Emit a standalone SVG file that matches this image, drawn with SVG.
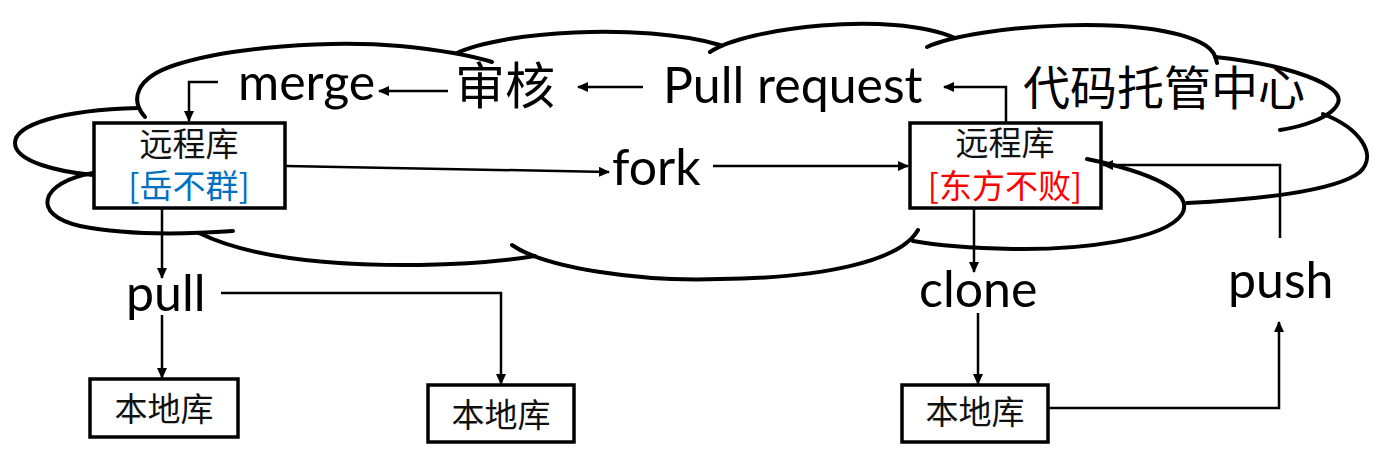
<svg xmlns="http://www.w3.org/2000/svg" width="1400" height="450" viewBox="0 0 1400 450">
<style>
.cloud{fill:none;stroke:#000;stroke-width:4;stroke-linecap:round}
.box{fill:#fff;stroke:#000;stroke-width:3.5}
.conn{fill:none;stroke:#000;stroke-width:2.5}
.en{font-family:Lato,"Liberation Sans",sans-serif;font-size:50px;fill:#000}
.cjk{font-family:"Noto Sans CJK SC",sans-serif;fill:#000}
.bt{font-family:"Noto Sans CJK SC",sans-serif;font-size:33px;fill:#111}
</style>
<defs>
<marker id="ah" markerWidth="11" markerHeight="10" refX="10" refY="5" orient="auto" markerUnits="userSpaceOnUse"><path d="M0,0 L11,5 L0,10 z" fill="#000"/></marker>
</defs>
<rect width="1400" height="450" fill="#fff"/>
<g id="cloud">
<path class="cloud" d="M145,117 C130,100 135,78 175,65 C230,47 330,40 400,46 C440,50 470,55 492,62"/>
<path class="cloud" d="M457,53 C500,32 640,22 720,45"/>
<path class="cloud" d="M710,52 C745,28 890,10 955,38"/>
<path class="cloud" d="M927,47 C975,25 1150,12 1205,45 C1213,50 1216,56 1217,63"/>
<path class="cloud" d="M1215,57 C1290,65 1345,85 1338,103 C1332,118 1300,127 1280,130"/>
<path class="cloud" d="M1323,114 C1360,128 1378,155 1360,172 C1335,192 1250,200 1187,203"/>
<path class="cloud" d="M512,245 C545,268 640,282 720,279 C820,278 900,262 918,230"/>
<path class="cloud" d="M199,233 C250,258 330,266 420,265 C470,264 510,260 535,256"/>
<path class="cloud" d="M93,173 C40,182 30,215 80,226 C130,236 190,234 233,231"/>
<path class="cloud" d="M138,108 C60,110 15,125 15,143 C15,162 60,172 93,175"/>
<text class="cjk" x="1023" y="105" font-size="47">代码托管中心</text>
</g>
<g id="remote-left">
<rect class="box" x="94" y="123" width="191" height="85"/>
<text class="bt" x="189" y="156" text-anchor="middle">远程库</text>
<text class="bt" x="189" y="198" text-anchor="middle" fill="#0070C0" style="fill:#0070C0">[岳不群]</text>
</g>
<g id="remote-right">
<rect class="box" x="910" y="123" width="191" height="85"/>
<text class="bt" x="1005" y="155" text-anchor="middle">远程库</text>
<text class="bt" x="1005" y="198" text-anchor="middle" style="fill:#FF0000">[东方不败]</text>
</g>
<path class="cloud" d="M1087,159 C1150,172 1195,192 1182,214 C1165,240 1080,250 1013,249 C970,248 935,245 913,241"/>
<g id="local-1">
<rect class="box" x="90" y="379" width="148" height="58"/>
<text class="bt" x="164" y="421" text-anchor="middle">本地库</text>
</g>
<g id="local-2">
<rect class="box" x="428" y="385" width="146" height="57"/>
<text class="bt" x="501" y="427" text-anchor="middle">本地库</text>
</g>
<g id="local-3">
<rect class="box" x="902" y="385" width="146" height="57"/>
<text class="bt" x="975" y="424" text-anchor="middle">本地库</text>
</g>
<g id="labels">
<text class="en" x="238" y="100">merge</text>
<text class="cjk" x="455" y="104" font-size="50">审核</text>
<text class="en" x="663" y="103">Pull request</text>
<text class="en" x="612" y="185">fork</text>
<text class="en" x="126" y="311">pull</text>
<text class="en" x="919" y="307">clone</text>
<text class="en" x="1228" y="298">push</text>
</g>
<g id="connectors">
<path class="conn" d="M448,91 H379" marker-end="url(#ah)"/>
<path class="conn" d="M643,87 H578" marker-end="url(#ah)"/>
<path class="conn" d="M1006,122 V87 H944" marker-end="url(#ah)"/>
<path class="conn" d="M218,82 H189 V121" marker-end="url(#ah)"/>
<path class="conn" d="M286,166 L609,172" marker-end="url(#ah)"/>
<path class="conn" d="M713,166 H908" marker-end="url(#ah)"/>
<path class="conn" d="M1280,238 V165 H1103" marker-end="url(#ah)"/>
<path class="conn" d="M162,209 V278" marker-end="url(#ah)"/>
<path class="conn" d="M162,315 V378" marker-end="url(#ah)"/>
<path class="conn" d="M221,293 H501 V384" marker-end="url(#ah)"/>
<path class="conn" d="M974,209 V272" marker-end="url(#ah)"/>
<path class="conn" d="M978,313 V384" marker-end="url(#ah)"/>
<path class="conn" d="M1048,408 H1279 V322" marker-end="url(#ah)"/>
</g>
</svg>
